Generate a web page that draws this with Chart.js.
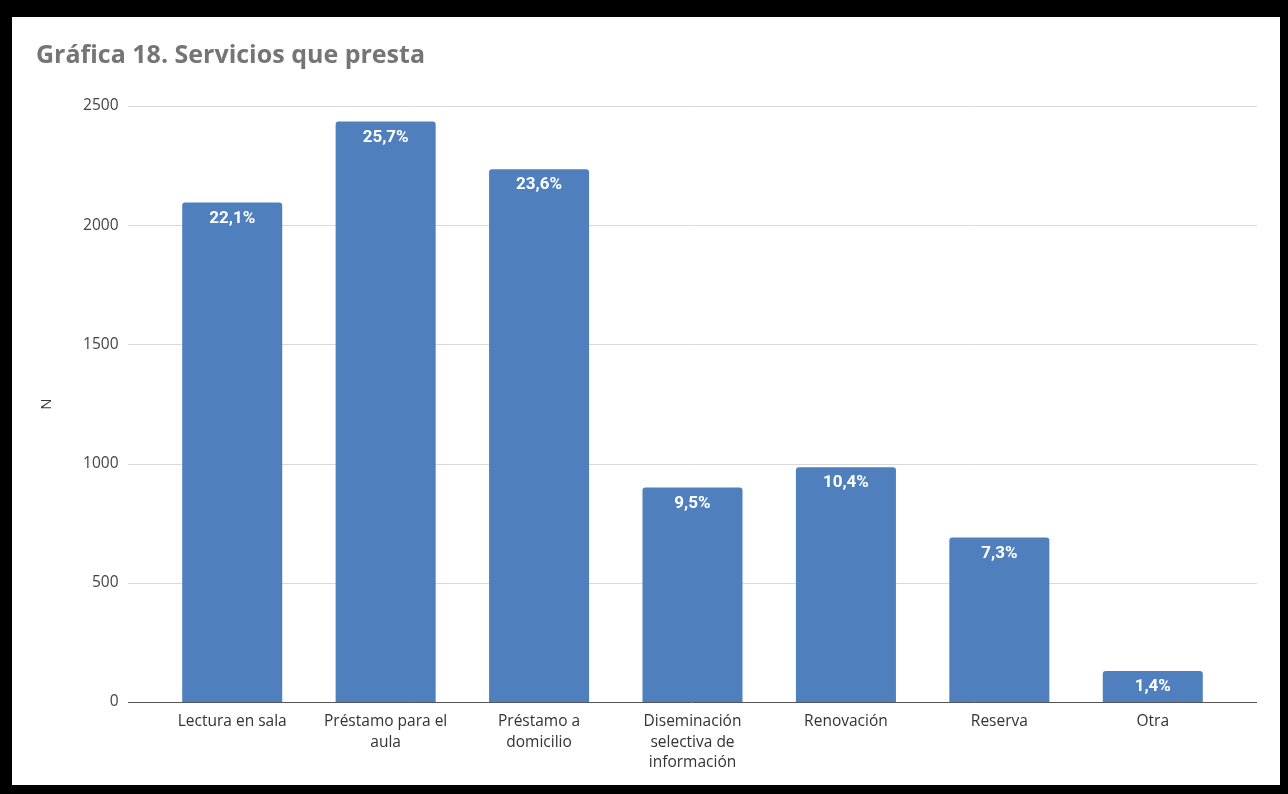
<!DOCTYPE html>
<html>
<head>
<meta charset="utf-8">
<script src="https://cdn.jsdelivr.net/npm/chart.js@4"></script>
<style>
  html, body { margin:0; padding:0; background:#000; }
  #frame { position:absolute; left:12px; top:17px; width:1268px; height:768px; background:#fff; }
  #wrap { position:absolute; left:24px; top:0; width:1244px; height:768px; }
</style>
</head>
<body>
<div id="frame"><div id="wrap"><canvas id="chart"></canvas></div></div>
<script>
const categories = [
  "Lectura en sala",
  ["Préstamo para el", "aula"],
  ["Préstamo a", "domicilio"],
  ["Diseminación", "selectiva de", "información"],
  "Renovación",
  "Reserva",
  "Otra"
]
const counts = [2095, 2435, 2235, 900, 985, 690, 130]
const yTicks = [0, 500, 1000, 1500, 2000, 2500]

const total = counts.reduce((s, v) => s + v, 0)
const pctLabels = counts.map(v => (v / total * 100).toFixed(1).replace(".", ",") + "%")

// gridlines run a bit wider than the bar area
const gridLines = {
  id: "gridLines",
  beforeDatasetsDraw(chart){
    const { ctx, scales:{ y } } = chart
    ctx.save()
    ctx.strokeStyle = "#d9d9d9"
    ctx.lineWidth = 1
    yTicks.forEach(v => {
      if (v === 0) return
      const py = Math.round(y.getPixelForValue(v)) + 0.5
      ctx.beginPath(); ctx.moveTo(92, py); ctx.lineTo(1221, py); ctx.stroke()
    })
    ctx.restore()
  },
  afterDatasetsDraw(chart){
    const { ctx, scales:{ y } } = chart
    ctx.save()
    const py = Math.round(y.getPixelForValue(0)) + 0.5
    ctx.strokeStyle = "#555"
    ctx.lineWidth = 1
    ctx.beginPath(); ctx.moveTo(92, py); ctx.lineTo(1221, py); ctx.stroke()

    // percentage labels inside the bar tops
    ctx.fillStyle = "#fff"
    ctx.font = "bold 17px Roboto"
    ctx.textAlign = "center"
    ctx.textBaseline = "middle"
    chart.getDatasetMeta(0).data.forEach((bar, i) => {
      ctx.fillText(pctLabels[i], bar.x, bar.y + 16)
    })
    ctx.restore()
  }
}

new Chart(document.getElementById("chart"), {
  type: "bar",
  data: {
    labels: categories,
    datasets: [{
      data: counts,
      backgroundColor: "#4f80bd",
      borderRadius: { topLeft: 3, topRight: 3 },
      borderSkipped: "bottom",
      categoryPercentage: 1,
      barPercentage: 0.652
    }]
  },
  options: {
    responsive: true,
    maintainAspectRatio: false,
    animation: false,
    layout: { padding: { left: 0, right: 50.5, top: 0, bottom: 0 } },
    plugins: {
      legend: { display: false },
      tooltip: { enabled: false },
      title: {
        display: true,
        text: "Gráfica 18. Servicios que presta",
        align: "start",
        color: "#757575",
        font: { family: "'Open Sans'", size: 25, weight: "bold" },
        padding: { top: 24, bottom: 35 }
      }
    },
    scales: {
      x: {
        afterFit(scale){ scale.height = 83 },
        grid: { display: false, drawTicks: false },
        border: { display: false },
        ticks: {
          color: "#333",
          font: { family: "'Open Sans'", size: 15.5, lineHeight: 1.3 },
          padding: 10,
          maxRotation: 0,
          autoSkip: false
        }
      },
      y: {
        min: 0,
        max: 2500,
        afterFit(scale){ scale.width = 119.5 },
        grid: { display: false, drawTicks: false },
        border: { display: false },
        ticks: {
          stepSize: 500,
          color: "#444",
          font: { family: "'Open Sans'", size: 15.5 },
          padding: 37,
          callback: v => String(v)
        },
        title: {
          display: true,
          text: "N",
          color: "#333",
          font: { family: "'Open Sans'", size: 15 },
          padding: { top: 2, bottom: 0 }
        }
      }
    }
  },
  plugins: [gridLines]
})
</script>
</body>
</html>
